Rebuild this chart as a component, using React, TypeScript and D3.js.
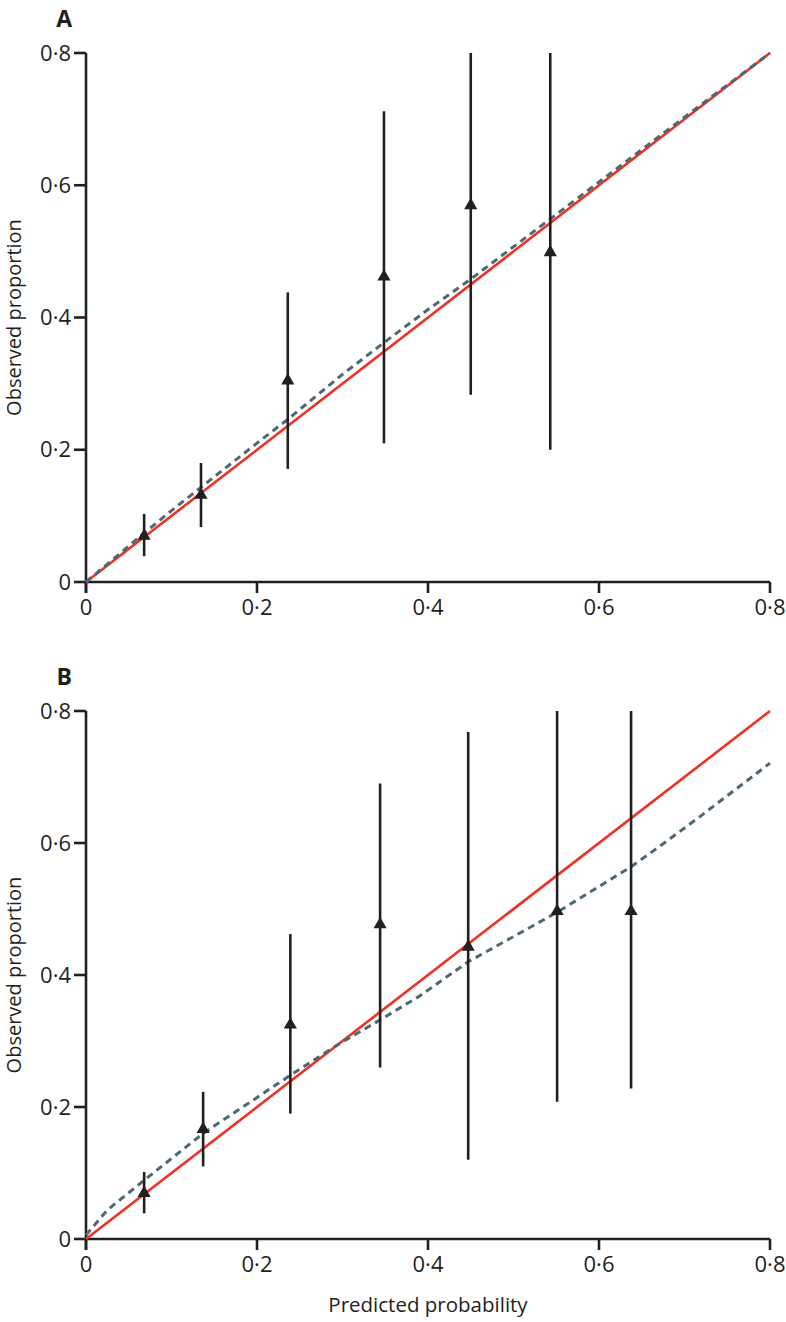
import React from 'react'
import * as d3 from 'd3'

// panel A calibration data
const predA = [0.068, 0.1345, 0.236, 0.3485, 0.45, 0.543]
const obsA = [0.068, 0.13, 0.303, 0.46, 0.568, 0.497]
const loA = [0.039, 0.083, 0.171, 0.21, 0.283, 0.2]
const hiA = [0.103, 0.18, 0.438, 0.712, 0.8, 0.8]
const smoothXA = [0, 0.068, 0.1, 0.2, 0.236, 0.3, 0.3485, 0.4, 0.45, 0.5, 0.543, 0.6, 0.7, 0.8]
const smoothYA = [0, 0.074, 0.108, 0.21, 0.246, 0.314, 0.362, 0.412, 0.458, 0.507, 0.549, 0.605, 0.703, 0.8]

// panel B calibration data
const predB = [0.068, 0.137, 0.239, 0.344, 0.447, 0.551, 0.6375]
const obsB = [0.068, 0.165, 0.323, 0.475, 0.441, 0.495, 0.495]
const loB = [0.039, 0.11, 0.19, 0.26, 0.12, 0.208, 0.228]
const hiB = [0.1015, 0.223, 0.462, 0.69, 0.768, 0.8, 0.8]
const smoothXB = [0, 0.025, 0.068, 0.137, 0.239, 0.294, 0.344, 0.39, 0.447, 0.551, 0.6375, 0.67, 0.718, 0.8]
const smoothYB = [0.006, 0.044, 0.089, 0.16, 0.248, 0.294, 0.332, 0.368, 0.42, 0.495, 0.564, 0.594, 0.64, 0.721]

const ticks = [0, 0.2, 0.4, 0.6, 0.8]

const fmt = (d: number) => (d === 0 ? '0' : d3.format('.1f')(d).replace('.', '·'))
const font = '"Open Sans", "DejaVu Sans", sans-serif'
const ink = '#231f20'

function Panel({ label, top, bottom, pred, obs, lo, hi, sx, sy, showX }: any) {
    const x = d3.scaleLinear().domain([0, 0.8]).range([86, 770])
    const y = d3.scaleLinear().domain([0, 0.8]).range([bottom, top])
    const line = d3.line<number>().x((d, i) => x(sx[i])).y(d => y(d))
    const diag = d3.line<number>().x(d => x(d)).y(d => y(d))
    const tri = d3.symbol().type(d3.symbolTriangle).size(75)

    return (
        <g>
            <text x={72} y={top - 26} textAnchor="end" fontFamily={font} fontWeight="bold" fontSize={23} fill={ink}>{label}</text>
            <text transform={`translate(21, ${(top + bottom) / 2}) rotate(-90)`} textAnchor="middle"
                fontFamily={font} fontSize={20} fill={ink}>Observed proportion</text>

            {/* axes */}
            <line x1={x(0)} x2={x(0.8)} y1={y(0)} y2={y(0)} stroke={ink} strokeWidth={2.6} />
            <line x1={x(0)} x2={x(0)} y1={y(0) + 11} y2={y(0.8)} stroke={ink} strokeWidth={2.6} />
            {ticks.map(t => (
                <g key={'x' + t}>
                    <line x1={x(t)} x2={x(t)} y1={y(0)} y2={y(0) + 11} stroke={ink} strokeWidth={2.6} />
                    <text x={x(t)} y={y(0) + 33} textAnchor="middle" fontFamily={font} fontSize={22} fill={ink}>{fmt(t)}</text>
                </g>
            ))}
            {ticks.map(t => (
                <g key={'y' + t}>
                    <line x1={x(0) - 12} x2={x(0)} y1={y(t)} y2={y(t)} stroke={ink} strokeWidth={2.6} />
                    <text x={x(0) - 15} y={y(t)} dy="0.35em" textAnchor="end" fontFamily={font} fontSize={22} fill={ink}>{fmt(t)}</text>
                </g>
            ))}

            {/* reference and smoothed calibration */}
            <path d={diag([0, 0.8]) || ''} stroke="#ee3124" strokeWidth={2.6} fill="none" />
            <path d={line(sy) || ''} stroke="#4c6873" strokeWidth={3} strokeDasharray="7,5" fill="none" />

            {/* grouped observations */}
            {pred.map((p: number, i: number) => (
                <g key={i}>
                    <line x1={x(p)} x2={x(p)} y1={y(lo[i])} y2={y(hi[i])} stroke={ink} strokeWidth={2.6} />
                    <path d={tri() || ''} transform={`translate(${x(p)}, ${y(obs[i]) - 1})`} fill={ink} />
                </g>
            ))}

            {showX && (
                <text x={428} y={bottom + 73} textAnchor="middle" fontFamily={font} fontSize={20.5} fill={ink}>Predicted probability</text>
            )}
        </g>
    )
}

export default function App() {
    return (
        <svg width={786} height={1322} style={{ position: 'absolute', left: 0, top: 0, background: '#fff' }}>
            <Panel label="A" top={53} bottom={582} pred={predA} obs={obsA} lo={loA} hi={hiA} sx={smoothXA} sy={smoothYA} />
            <Panel label="B" top={711} bottom={1239} pred={predB} obs={obsB} lo={loB} hi={hiB} sx={smoothXB} sy={smoothYB} showX />
        </svg>
    )
}
